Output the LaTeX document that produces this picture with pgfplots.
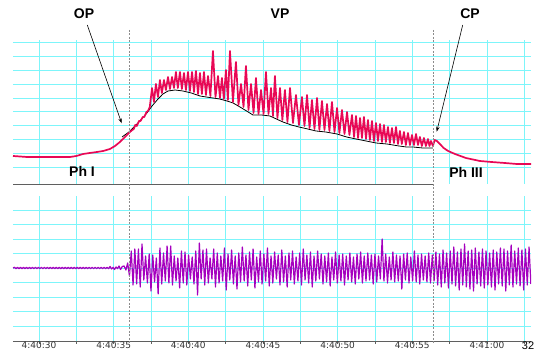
\documentclass[border=0pt]{standalone}
\usepackage{fontspec}
\setmainfont{Liberation Sans}
\newfontfamily\tickfont{DejaVu Sans}
\usepackage{pgfplots}
\pgfplotsset{compat=1.18}
\usetikzlibrary{arrows.meta}
\definecolor{gridc}{RGB}{125,245,250}
\definecolor{sigred}{RGB}{232,8,85}
\definecolor{sigpur}{RGB}{165,0,190}
\definecolor{axgray}{RGB}{95,95,95}
\definecolor{dashgray}{RGB}{140,140,140}
\begin{document}
\begin{tikzpicture}
\useasboundingbox (0,0) rectangle (536pt,352pt);
% ---------------- top panel ----------------
\begin{axis}[
  at={(13pt,168pt)}, anchor=south west, scale only axis,
  width=518pt, height=144pt,
  xmin=28.26, xmax=62.95, ymin=0, ymax=144,
  xtick={30,32.5,...,62.5},
  ytick={17,30.8,44.6,58.4,72.2,86,99.8,113.6,127.4,141.2},
  xticklabels={}, yticklabels={},
  tick style={draw=none},
  axis line style={draw=none},
  grid=major, major grid style={gridc, line width=0.8pt},
]
\addplot[black, line width=0.8pt, line join=round] coordinates {
(35.56,47)(36.03,52)(36.43,58)(36.76,63)(37.23,71)(37.57,78)(37.97,85)(38.30,90)(38.64,93)(39.11,94)(39.64,93)(40.20,91)(40.78,88)(41.20,87)(41.65,86)(42.10,85)(42.59,83)(43.00,81)(43.46,77)(43.90,73)(44.33,69)(44.90,69)(45.47,68)(45.90,65)(46.34,62)(46.90,59)(47.41,57)(48.00,55)(48.55,53)(49.20,52)(49.96,50)(50.60,47)(51.23,45)(51.90,43)(52.57,41)(53.30,40)(54.11,38)(54.60,37)(55.05,37)(55.70,36)(56.38,36)
};
\addplot[sigred, line width=1.7pt, line join=round] coordinates {
(28.26,28)(29.20,27)(30.07,27)(31.00,27)(32.08,27)(32.50,28)(32.95,30)(33.40,31)(33.88,32)(34.30,33)(34.75,35)(35.09,38)(35.42,42)(35.76,47)(36.09,52)(36.25,54)(36.35,55)(36.45,59)(36.55,58)(36.70,63)(36.80,63)(36.95,67)(37.05,67)(37.20,72)(37.30,73)(37.42,77)
(37.57,96)(37.70,82)(37.83,100)(37.97,87)(38.10,104)(38.23,91)(38.37,104)(38.50,94)(38.64,107)(38.77,95)(38.91,107)(39.04,96)(39.17,112)(39.30,96)(39.44,112)(39.57,95)(39.71,111)(39.84,94)(39.98,112)(40.11,93)(40.25,112)(40.38,92)(40.51,113)(40.65,90)(40.78,111)(40.91,90)(41.05,112)(41.18,89)(41.32,108)(41.48,88)(41.65,133)(41.82,87)(41.99,108)(42.12,86)(42.25,106)(42.38,85)(42.52,114)(42.65,84)(42.79,133)(42.99,82)(43.19,122)(43.36,79)(43.53,100)(43.70,77)(43.86,118)(44.03,74)(44.20,100)(44.37,71)(44.53,106)(44.70,70)(44.87,94)(45.04,70)(45.20,112)(45.37,70)(45.54,96)(45.67,68)(45.80,108)(45.97,66)(46.14,96)(46.30,64)(46.47,94)(46.64,62)(46.81,96)(47.01,61)(47.21,89)(47.41,59)(47.61,87)(47.78,58)(47.95,89)(48.12,56)(48.28,84)(48.45,55)(48.62,86)(48.78,54)(48.95,83)(49.12,54)(49.29,80)(49.45,53)(49.62,82)(49.79,52)(49.96,76)(50.12,51)(50.29,74)(50.46,50)(50.63,72)(50.79,49)(50.96,69)(51.10,47)(51.23,68)(51.37,46)(51.50,66)(51.63,46)(51.76,67)(51.90,45)(52.03,64)(52.16,44)(52.30,63)(52.43,43)(52.57,61)(52.70,43)(52.84,60)(52.97,42)(53.10,59)(53.23,42)(53.37,57)(53.50,41)(53.64,56)(53.77,41)(53.91,57)(54.04,40)(54.17,53)(54.30,40)(54.44,52)(54.57,39)(54.71,51)(54.84,39)(54.98,49)(55.11,39)(55.25,50)(55.38,39)(55.51,47)(55.64,38)(55.78,46)(55.91,38)(56.05,45)(56.15,38)(56.25,43)(56.38,38)
(56.50,44)(56.65,43)(56.85,40)(57.10,36)(57.40,33)(57.86,30)(58.59,26)(59.53,23)(60.30,22)(61.20,21)(62.00,20)(62.95,20)
};
\end{axis}
% ---------------- bottom panel ----------------
\begin{axis}[
  at={(13pt,11pt)}, anchor=south west, scale only axis,
  width=518pt, height=145pt,
  xmin=28.26, xmax=62.95, ymin=-73, ymax=72,
  axis lines*=left,
  xtick={30,32.5,...,62.5},
  xticklabels={4:40:30,,4:40:35,,4:40:40,,4:40:45,,4:40:50,,4:40:55,,4:41:00,},
  ytick={-58,-43.5,-29,-14.5,0,14.5,29,43.5,58}, yticklabels={},
  ytick style={draw=none},
  y axis line style={draw=none},
  x axis line style={axgray, line width=0.8pt},
  xtick style={axgray, line width=0.6pt},
  tick align=outside, major tick length=3pt,
  grid=major, major grid style={gridc, line width=0.8pt},
  xticklabel style={font=\tickfont\fontsize{9}{10}\selectfont, text=black!80, inner sep=0pt, yshift=2pt},
]
\addplot[sigpur, line width=1.2pt, line join=round] coordinates {
(28.26,0)(28.36,0.7)(28.46,-0.7)(28.56,0.7)(28.66,-0.7)(28.76,0.7)(28.86,-0.7)(28.96,0.7)(29.06,-0.7)(29.16,0.7)(29.26,-0.7)(29.36,0.7)(29.46,-0.7)(29.56,0.7)(29.66,-0.7)(29.76,0.7)(29.86,-0.7)(29.96,0.7)(30.06,-0.7)(30.16,0.7)(30.26,-0.7)(30.36,0.7)(30.46,-0.7)(30.56,0.7)(30.66,-0.7)(30.76,0.7)(30.86,-0.7)(30.96,0.7)(31.06,-0.7)(31.16,0.7)(31.26,-0.7)(31.36,0.7)(31.46,-0.7)(31.56,0.7)(31.66,-0.7)(31.76,0.7)(31.86,-0.7)(31.96,0.7)(32.06,-0.7)(32.16,0.7)(32.26,-0.7)(32.36,0.7)(32.46,-0.7)(32.56,0.7)(32.66,-0.7)(32.76,0.7)(32.86,-0.7)(32.96,0.7)(33.06,-0.7)(33.16,0.7)(33.26,-0.7)(33.36,0.7)(33.46,-0.7)(33.56,0.7)(33.66,-0.7)(33.76,0.7)(33.86,-0.7)(33.96,0.7)(34.06,-0.7)(34.16,0.7)(34.26,-0.7)(34.36,0.7)(34.46,-0.7)(34.56,0.7)(34.66,-0.7)(34.76,1.5)(34.86,-1)(34.96,0.7)(35.06,-1.5)(35.16,1)(35.26,-0.7)(35.36,2)(35.46,-1.5)(35.58,1.5)
(35.70,2)(35.82,-2)(35.94,5)(36.06,-8)(36.18,17)(36.30,-17)(36.42,19)(36.54,-16)(36.66,19)(36.78,-19)(36.90,24)(37.02,-12)(37.14,12)(37.26,-15)(37.38,14)(37.50,-23)(37.62,13)(37.74,-14)(37.86,10)(37.98,-26)
(38.10,20)(38.22,-16)(38.34,15)(38.46,-13)(38.58,22)(38.70,-15)(38.82,22)(38.94,-17)(39.06,12)(39.18,-13)(39.30,10)(39.42,-20)(39.54,17)(39.66,-15)(39.78,16)(39.90,-17)(40.02,13)(40.14,-11)(40.26,11)(40.38,-16)
(40.50,17)(40.62,-27)(40.74,25)(40.86,-11)(40.98,18)(41.10,-17)(41.22,19)(41.34,-15)(41.46,10)(41.58,-11)(41.70,19)(41.82,-19)(41.94,15)(42.06,-15)(42.18,12)(42.30,-13)(42.42,20)(42.54,-22)(42.66,14)(42.78,-12)
(42.90,18)(43.02,-16)(43.14,12)(43.26,-21)(43.38,15)(43.50,-14)(43.62,21)(43.74,-13)(43.86,13)(43.98,-18)(44.10,16)(44.22,-12)(44.34,19)(44.46,-20)(44.58,11)(44.70,-14)(44.82,17)(44.94,-16)(45.06,14)(45.18,-13)
(45.30,20)(45.42,-18)(45.54,12)(45.66,-15)(45.78,16)(45.90,-11)(46.02,13)(46.14,-17)(46.26,18)(46.38,-14)(46.50,12)(46.62,-19)(46.74,15)(46.86,-12)(46.98,17)(47.10,-16)(47.22,11)(47.34,-13)(47.46,15)(47.58,-17)
(47.70,19)(47.82,-12)(47.94,13)(48.06,-15)(48.18,16)(48.30,-19)(48.42,12)(48.54,-13)(48.66,17)(48.78,-11)(48.90,14)(49.02,-16)(49.14,12)(49.26,-14)(49.38,15)(49.50,-18)(49.62,11)(49.74,-12)(49.86,16)(49.98,-15)
(50.10,13)(50.22,-13)(50.34,14)(50.46,-17)(50.58,12)(50.70,-12)(50.82,15)(50.94,-14)(51.06,11)(51.18,-16)(51.30,14)(51.42,-11)(51.54,16)(51.66,-15)(51.78,12)(51.90,-13)(52.02,15)(52.14,-12)(52.26,13)(52.38,-16)
(52.50,14)(52.62,-14)(52.74,12)(52.86,-11)(52.98,29)(53.10,-13)(53.22,14)(53.34,-15)(53.46,11)(53.58,-12)(53.70,16)(53.82,-14)(53.94,13)(54.06,-13)(54.18,12)(54.30,-21)(54.42,14)(54.54,-12)(54.66,15)(54.78,-15)
(54.90,11)(55.02,-13)(55.14,17)(55.26,-14)(55.38,13)(55.50,-16)(55.62,14)(55.74,-12)(55.86,12)(55.98,-14)(56.10,15)(56.22,-15)(56.34,13)(56.46,-13)(56.58,16)(56.70,-17)(56.82,14)(56.94,-19)(57.06,18)(57.18,-15)
(57.30,15)(57.42,-20)(57.54,17)(57.66,-16)(57.78,21)(57.90,-18)(58.02,16)(58.14,-22)(58.26,19)(58.38,-17)(58.50,24)(58.62,-19)(58.74,17)(58.86,-21)(58.98,18)(59.10,-23)(59.22,20)(59.34,-16)(59.46,16)(59.58,-18)
(59.70,19)(59.82,-20)(59.94,17)(60.06,-17)(60.18,15)(60.30,-19)(60.42,18)(60.54,-22)(60.66,16)(60.78,-16)(60.90,20)(61.02,-18)(61.14,19)(61.26,-23)(61.38,17)(61.50,-17)(61.62,23)(61.74,-19)(61.86,17)(61.98,-16)
(62.10,20)(62.22,-18)(62.34,18)(62.46,-22)(62.58,19)(62.70,-17)(62.82,21)(62.94,-16)
};
\end{axis}
% ---------------- annotations ----------------
\draw[axgray, line width=0.9pt] (13pt,168pt) -- (433pt,168pt);
\draw[dashgray, line width=0.8pt, dash pattern=on 2pt off 1.5pt] (129.5pt,322pt) -- (129.5pt,8pt);
\draw[dashgray, line width=0.8pt, dash pattern=on 2pt off 1.5pt] (433pt,322pt) -- (433pt,8pt);
\node[font=\bfseries\fontsize{14}{16}\selectfont] at (84pt,338.7pt) {OP};
\node[font=\bfseries\fontsize{14}{16}\selectfont] at (280pt,338.7pt) {VP};
\node[font=\bfseries\fontsize{14}{16}\selectfont] at (470pt,338.7pt) {CP};
\node[font=\bfseries\fontsize{14}{16}\selectfont] at (82pt,180.3pt) {Ph I};
\node[font=\bfseries\fontsize{14}{16}\selectfont] at (466pt,180pt) {Ph III};
\draw[-{Stealth[length=5pt,width=3.5pt]}, line width=0.6pt] (87.3pt,327pt) -- (121.7pt,228.7pt);
\draw[-{Stealth[length=5pt,width=3.5pt]}, line width=0.6pt] (462.7pt,327pt) -- (436.7pt,220.3pt);
\node[font=\fontsize{11}{12}\selectfont, inner sep=0pt] at (528pt,6.5pt) {32};
\end{tikzpicture}
\end{document}
